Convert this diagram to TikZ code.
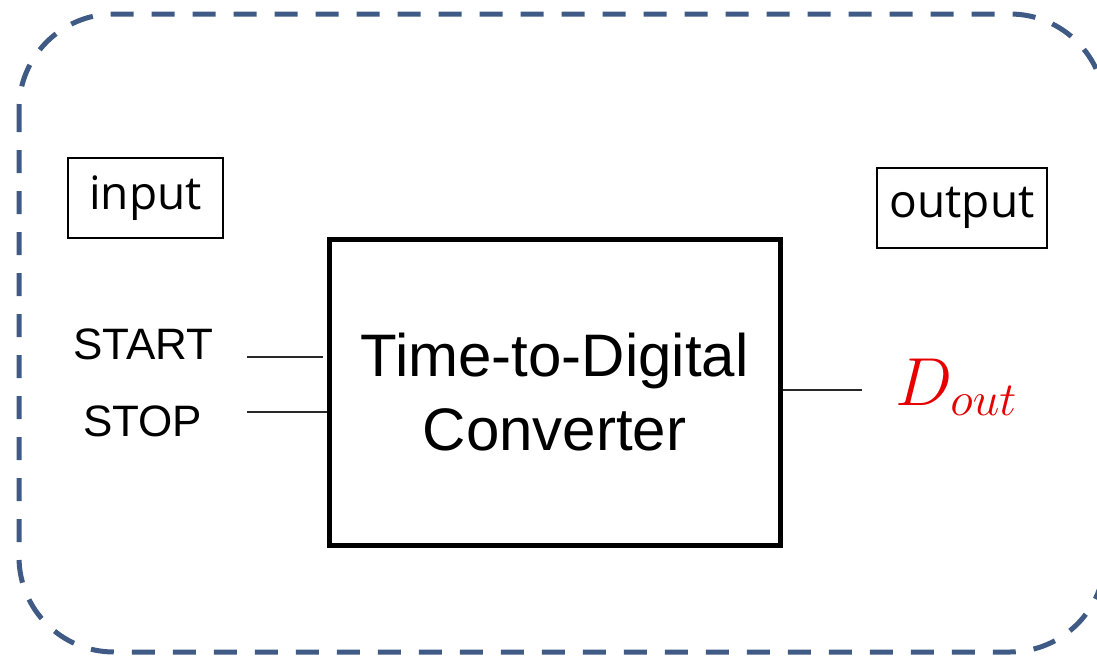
\RequirePackage{fix-cm}
\documentclass[tikz,border=0pt]{standalone}
\usepackage{fontspec}
\setmainfont{Liberation Sans}
\newfontfamily\tagfont{Open Sans}
\definecolor{framecol}{RGB}{62,90,133}
\definecolor{wirecol}{RGB}{40,40,40}
\definecolor{outred}{RGB}{230,0,0}
\begin{document}
\begin{tikzpicture}[x=1pt,y=-1pt,
  tagbox/.style={draw=black,line width=1.5pt,inner sep=0pt,minimum height=80pt,
    font=\tagfont\fontsize{46}{52}\selectfont},
  tdcbox/.style={draw=black,line width=5pt,inner sep=0pt,minimum width=451pt,
    minimum height=306pt,align=center,
    font=\fontsize{60}{74}\selectfont},
  sig/.style={inner sep=0pt,anchor=base west,font=\fontsize{44}{50}\selectfont},
  wire/.style={draw=wirecol,line width=1.4pt},
  frame/.style={draw=framecol,line width=5pt,dash pattern=on 23pt off 18pt,
    rounded corners=95pt}]
  \useasboundingbox (0,0) rectangle (1097,656);
  \clip (0,0) rectangle (1097,656);

  % dashed enclosure
  \draw[frame] (19,14) rectangle (1105,652);

  % labels of the two sides
  \node[tagbox,minimum width=155pt] (inbox) at (145.5,198) {\raisebox{-4pt}{input}\hspace{6pt}};
  \node[tagbox,minimum width=170pt] (outbox) at (962,208) {\raisebox{-4pt}{output}};

  % converter block
  \node[tdcbox] (tdc) at (554.5,392) {Time-to-Digital\\Converter};

  % input signals
  \node[sig] (start) at (73,359) {START};
  \node[sig] (stop) at (83,436) {STOP};
  \coordinate (startend) at (247,357);
  \coordinate (stopend) at (247,412);
  \draw[wire,shorten >=4pt] (startend) -- (startend -| tdc.west);
  \draw[wire] (stopend) -- (stopend -| tdc.west);

  % output signal
  \coordinate (outend) at (862,390);
  \node[inner sep=0pt,anchor=base west,text=outred,font=\fontsize{68}{76}\selectfont]
    (dout) at (895,405) {$D_{out}$};
  \draw[wire] (outend -| tdc.east) -- (outend);
\end{tikzpicture}
\end{document}
